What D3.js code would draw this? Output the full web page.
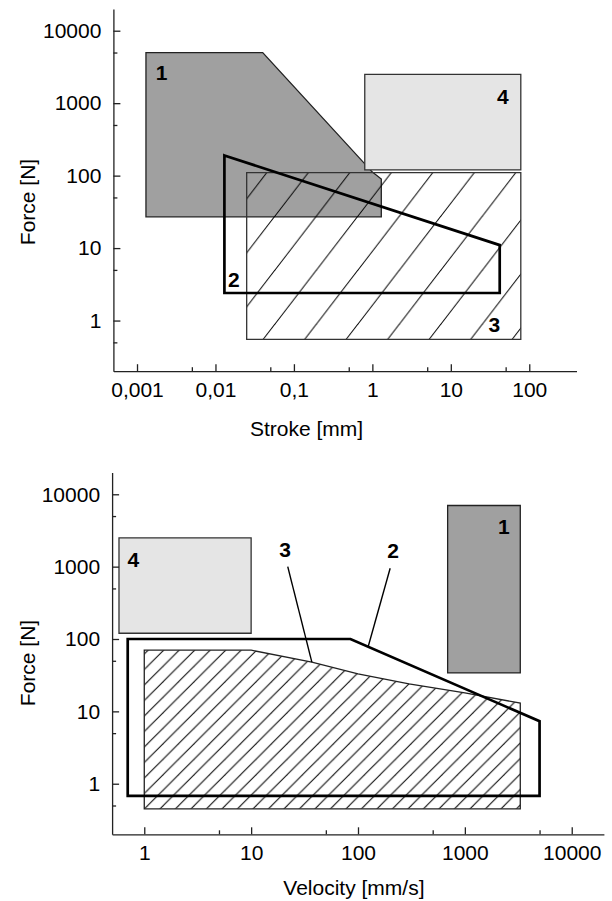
<!DOCTYPE html>
<html>
<head>
<meta charset="utf-8">
<script src="https://cdn.jsdelivr.net/npm/d3@7"></script>
<style>
  html, body { margin: 0; padding: 0; background: #fff; }
  svg { display: block; font-family: "Liberation Sans", Arial, Helvetica, sans-serif; }
</style>
</head>
<body>
<svg id="chart" width="612" height="901"></svg>
<script>
// ---------- data ----------
const strokeTicks = [0.001, 0.01, 0.1, 1, 10, 100];
const strokeTickLabels = ["0,001", "0,01", "0,1", "1", "10", "100"];
const strokeMinorTicks = [0.005, 0.05, 0.5, 5, 50];
const forceTicks = [1, 10, 100, 1000, 10000];
const forceTickLabels = ["1", "10", "100", "1000", "10000"];
const forceMinorTicks = [0.5, 5, 50, 500, 5000];
const velocityTicks = [1, 10, 100, 1000, 10000];
const velocityTickLabels = ["1", "10", "100", "1000", "10000"];
const velocityMinorTicks = [5, 50, 500, 5000];

// Stroke chart regions [stroke mm, force N]
const strokeRegion1 = [[0.0013, 5000], [0.04, 5000], [1.0, 112], [1.3, 90], [1.3, 27], [0.0013, 27]];
const strokeRegion2 = [[0.013, 190], [42, 11], [42, 2.4], [0.013, 2.4]];
const strokeRegion3 = [[0.025, 110], [78, 110], [78, 0.55], [0.025, 0.55]];
const strokeRegion4 = [[0.8, 2500], [78, 2500], [78, 120], [0.8, 120]];
const strokeLabelText = ["1", "2", "3", "4"];
const strokeLabelX = [0.00206, 0.0171, 36, 46];
const strokeLabelY = [2640, 3.72, 0.87, 1230];

// Velocity chart regions [velocity mm/s, force N]
const velRegion1 = [[690, 7000], [3300, 7000], [3300, 34], [690, 34]];
const velRegion2 = [[0.7, 100], [85, 100], [5000, 7.3], [5000, 0.68], [0.7, 0.68]];
const velRegion3 = [[1, 70], [10, 70], [37, 48], [100, 33], [300, 24], [1000, 18], [3300, 13], [3300, 0.45], [1, 0.45]];
const velRegion4 = [[0.58, 2500], [10, 2500], [10, 120], [0.58, 120]];
const velLeader2 = [[200, 950], [125, 80]];
const velLeader3 = [[22, 1000], [37, 48]];
const velLabelText = ["1", "2", "3", "4"];
const velLabelX = [2317, 213, 20.8, 0.79];
const velLabelY = [3600, 1680, 1755, 1250];

// ---------- drawing ----------
const svg = d3.select("#chart");
svg.append("rect").attr("width", 612).attr("height", 901).attr("fill", "#fff");
const defs = svg.append("defs");

function makeHatch(id, W, H, ox, oy, sw) {
  const p = defs.append("pattern").attr("id", id)
    .attr("patternUnits", "userSpaceOnUse")
    .attr("x", ox).attr("y", oy).attr("width", W).attr("height", H);
  for (const k of [-1, 0, 1]) {
    p.append("path")
      .attr("d", `M${-W + k * W},${2 * H} L${2 * W + k * W},${-H}`)
      .attr("stroke", "#000").attr("stroke-width", sw).attr("fill", "none");
  }
}
makeHatch("hatchTop", 41.5, 54, 26, 0, 1);
makeHatch("hatchBot", 15.5, 15.5, 7.8, 0, 1);

const FONT = 21;

function drawAxes(g, x, y, xt, xl, xm, yt, yl, ym) {
  g.append("g").attr("transform", `translate(0,${y.range()[0]})`)
    .call(d3.axisBottom(x).tickValues(xt).tickFormat((d, i) => xl[i])
      .tickSizeInner(-7).tickSizeOuter(0).tickPadding(11));
  g.append("g").attr("transform", `translate(0,${y.range()[0]})`)
    .call(d3.axisBottom(x).tickValues(xm).tickFormat("").tickSizeInner(-4).tickSizeOuter(0))
    .select(".domain").remove();
  g.append("g").attr("transform", `translate(${x.range()[0]},0)`)
    .call(d3.axisLeft(y).tickValues(yt).tickFormat((d, i) => yl[i])
      .tickSizeInner(-7).tickSizeOuter(0).tickPadding(12));
  g.append("g").attr("transform", `translate(${x.range()[0]},0)`)
    .call(d3.axisLeft(y).tickValues(ym).tickFormat("").tickSizeInner(-4).tickSizeOuter(0))
    .select(".domain").remove();
  g.selectAll(".domain, .tick line").attr("stroke", "#222").attr("stroke-width", 1.3);
  g.selectAll(".tick text").attr("font-size", FONT).attr("fill", "#000")
    .attr("font-family", '"Liberation Sans", Arial, sans-serif');
}

function poly(g, x, y, pts, fill, stroke, sw) {
  const line = d3.line().x(d => x(d[0])).y(d => y(d[1]));
  return g.append("path").attr("d", line(pts) + (pts.length > 2 ? "Z" : ""))
    .attr("fill", fill).attr("stroke", stroke).attr("stroke-width", sw)
    .attr("stroke-linejoin", "miter");
}

function labels(g, x, y, txt, xs, ys) {
  g.selectAll("text.lbl").data(txt).enter().append("text").attr("class", "lbl")
    .attr("x", (d, i) => x(xs[i])).attr("y", (d, i) => y(ys[i]))
    .attr("dy", "0.36em").attr("text-anchor", "middle")
    .attr("font-size", FONT).attr("font-weight", "bold").text(d => d);
}

// ---- top chart: Stroke ----
const xS = d3.scaleLog().domain([0.0005, 400]).range([113.4, 576.5]);
const yS = d3.scaleLog().domain([0.2, 20000]).range([371.2, 8.9]);
const gTop = svg.append("g");
poly(gTop, xS, yS, strokeRegion1, "#a0a0a0", "#222", 1.3);
poly(gTop, xS, yS, strokeRegion4, "#e5e5e5", "#333", 1.3);
poly(gTop, xS, yS, strokeRegion3, "url(#hatchTop)", "#333", 1.3);
poly(gTop, xS, yS, strokeRegion2, "none", "#000", 2.7);
labels(gTop, xS, yS, strokeLabelText, strokeLabelX, strokeLabelY);
drawAxes(gTop, xS, yS, strokeTicks, strokeTickLabels, strokeMinorTicks, forceTicks, forceTickLabels, forceMinorTicks);
gTop.append("text").attr("x", 250).attr("y", 436).attr("font-size", 21).text("Stroke [mm]");
gTop.append("text").attr("transform", "translate(35,202) rotate(-90)").attr("text-anchor", "middle")
  .attr("font-size", 21).text("Force [N]");

// ---- bottom chart: Velocity ----
const xV = d3.scaleLog().domain([0.5, 20000]).range([112.1, 603.9]);
const yV = d3.scaleLog().domain([0.2, 20000]).range([834.3, 472.5]);
const gBot = svg.append("g");
poly(gBot, xV, yV, velRegion4, "#e5e5e5", "#333", 1.3);
poly(gBot, xV, yV, velRegion1, "#a0a0a0", "#222", 1.3);
poly(gBot, xV, yV, velRegion3, "url(#hatchBot)", "#222", 1.3);
poly(gBot, xV, yV, velRegion2, "none", "#000", 2.7);
poly(gBot, xV, yV, velLeader2, "none", "#000", 1.4);
poly(gBot, xV, yV, velLeader3, "none", "#000", 1.4);
labels(gBot, xV, yV, velLabelText, velLabelX, velLabelY);
drawAxes(gBot, xV, yV, velocityTicks, velocityTickLabels, velocityMinorTicks, forceTicks, forceTickLabels, forceMinorTicks);
gBot.append("text").attr("x", 283.3).attr("y", 895).attr("font-size", 21).text("Velocity [mm/s]");
gBot.append("text").attr("transform", "translate(35,663) rotate(-90)").attr("text-anchor", "middle")
  .attr("font-size", 21).text("Force [N]");
</script>
</body>
</html>
